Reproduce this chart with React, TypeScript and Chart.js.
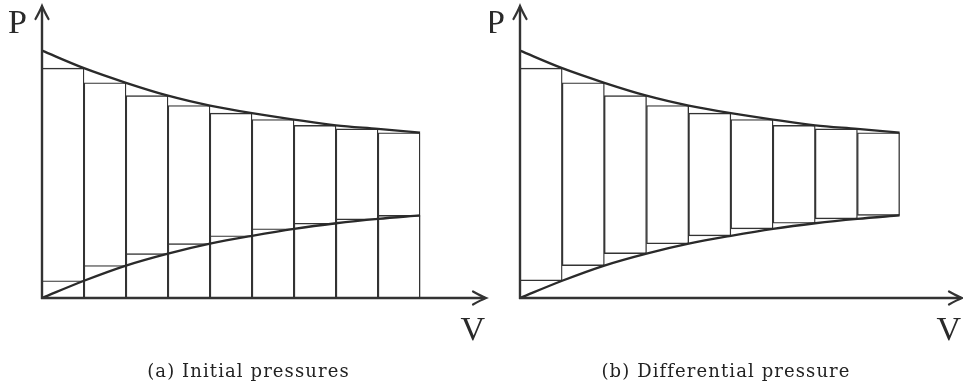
import React, { useEffect, useRef } from "react";
import { Chart, registerables } from "chart.js";

Chart.register(...registerables);

// V positions of the strip edges
const volumeEdges = [0, 1, 2, 3, 4, 5, 6, 7, 8, 9];
// decreasing (upper) pressure curve, sampled at the strip edges
const upperPressure = [8.47, 7.87, 7.37, 6.93, 6.59, 6.33, 6.11, 5.91, 5.79, 5.66];
// increasing (lower) pressure curve, sampled at the strip edges
const lowerPressure = [0, 0.59, 1.11, 1.52, 1.86, 2.13, 2.37, 2.56, 2.71, 2.83];
// axis labels
const yAxisLabel = "P";
const xAxisLabel = "V";
// panel captions
const captionA = "(a) Initial pressures";
const captionB = "(b) Differential pressure";

const INK = "#333333";
const SERIF = "'Liberation Serif', 'DejaVu Serif', serif";
const CAPTION_FONT = "'DejaVu Serif', 'Liberation Serif', serif";

type Mode = "initial" | "differential";

function buildDatasets(mode: Mode) {
  const centers = volumeEdges.slice(0, -1).map((v, i) => (v + volumeEdges[i + 1]) / 2);
  const upperLine = volumeEdges.map((v, i) => ({ x: v, y: upperPressure[i] }));
  const lowerLine = volumeEdges.map((v, i) => ({ x: v, y: lowerPressure[i] }));
  const barCommon = {
    type: "bar" as const,
    borderColor: INK,
    borderWidth: 0.7,
    borderSkipped: false as const,
    backgroundColor: "rgba(255,255,255,0)",
    barPercentage: 1,
    categoryPercentage: 1,
    grouped: false,
  };
  const lineCommon = {
    type: "line" as const,
    borderColor: "#2a2a2a",
    borderWidth: 2.3,
    pointRadius: 0,
    cubicInterpolationMode: "monotone" as const,
    fill: false,
    clip: false as const,
  };
  const lines = [
    { ...lineCommon, label: "upper", data: upperLine, order: 0 },
    { ...lineCommon, label: "lower", data: lowerLine, order: 0 },
  ];
  if (mode === "initial") {
    return [
      ...lines,
      {
        ...barCommon,
        label: "high strips",
        order: 2,
        data: centers.map((c, i) => ({ x: c, y: upperPressure[i + 1] })),
      },
      {
        ...barCommon,
        label: "low strips",
        order: 1,
        data: centers.map((c, i) => ({ x: c, y: lowerPressure[i + 1] })),
      },
    ];
  }
  return [
    ...lines,
    {
      ...barCommon,
      label: "difference strips",
      order: 2,
      data: centers.map((c, i) => ({ x: c, y: [lowerPressure[i + 1], upperPressure[i + 1]] })),
    },
  ];
}

const axesPlugin = {
  id: "arrowAxes",
  afterDatasetsDraw(chart: any) {
    const { ctx, chartArea, scales } = chart;
    const x0 = scales.x.getPixelForValue(0);
    const y0 = scales.y.getPixelForValue(0);
    const top = chartArea.top;
    const right = chartArea.right;
    ctx.save();
    ctx.strokeStyle = INK;
    ctx.lineWidth = 2.4;
    ctx.lineCap = "butt";
    ctx.beginPath();
    ctx.moveTo(x0, y0 + 1);
    ctx.lineTo(x0, top + 1);
    ctx.moveTo(x0 - 1, y0);
    ctx.lineTo(right - 1, y0);
    ctx.stroke();
    // arrow heads
    ctx.lineWidth = 2.2;
    ctx.lineCap = "round";
    ctx.beginPath();
    ctx.moveTo(x0 - 6.5, top + 13);
    ctx.quadraticCurveTo(x0 - 2, top + 5, x0, top);
    ctx.quadraticCurveTo(x0 + 2, top + 5, x0 + 6.5, top + 13);
    ctx.moveTo(right - 13, y0 - 6.5);
    ctx.quadraticCurveTo(right - 5, y0 - 2, right, y0);
    ctx.quadraticCurveTo(right - 5, y0 + 2, right - 13, y0 + 6.5);
    ctx.stroke();
    // labels
    ctx.fillStyle = "#2a2a2a";
    ctx.font = `34px ${SERIF}`;
    ctx.textBaseline = "alphabetic";
    ctx.textAlign = "right";
    ctx.fillText(yAxisLabel, x0 - 15, top + 27);
    ctx.fillText(xAxisLabel, right - 1, y0 + 42);
    ctx.restore();
  },
};

function Panel(props: {
  mode: Mode;
  left: number;
  width: number;
  padLeft: number;
  padRight: number;
  xMax: number;
}) {
  const ref = useRef<HTMLCanvasElement | null>(null);
  useEffect(() => {
    if (!ref.current) return;
    const chart = new Chart(ref.current, {
      type: "bar",
      data: { datasets: buildDatasets(props.mode) as any },
      options: {
        animation: false,
        responsive: false,
        devicePixelRatio: 1,
        layout: { padding: { left: props.padLeft, right: props.padRight, top: 6, bottom: 91 } },
        plugins: { legend: { display: false }, tooltip: { enabled: false }, title: { display: false } },
        scales: {
          x: { type: "linear", min: 0, max: props.xMax, offset: false, display: false },
          y: { type: "linear", min: 0, max: 10, display: false },
        },
      },
      plugins: [axesPlugin],
    });
    return () => chart.destroy();
  }, []);
  return (
    <canvas
      ref={ref}
      width={props.width}
      height={389}
      style={{ position: "absolute", left: props.left, top: 0, width: props.width, height: 389 }}
    />
  );
}

function Caption(props: { text: string; center: number }) {
  return (
    <div
      style={{
        position: "absolute",
        left: props.center - 200,
        width: 400,
        top: 360,
        textAlign: "center",
        fontFamily: CAPTION_FONT,
        fontSize: 18,
        lineHeight: "22px",
        letterSpacing: "1.1px",
        color: "#222",
        whiteSpace: "nowrap",
      }}
    >
      {props.text}
    </div>
  );
}

export default function App() {
  return (
    <div style={{ position: "absolute", left: 0, top: 0, width: 963, height: 389, background: "#fff", overflow: "hidden" }}>
      <Panel mode="initial" left={0} width={490} padLeft={42} padRight={4} xMax={10.57} />
      <Panel mode="differential" left={490} width={473} padLeft={30} padRight={1} xMax={10.48} />
      <Caption text={captionA} center={248.5} />
      <Caption text={captionB} center={726} />
    </div>
  );
}
